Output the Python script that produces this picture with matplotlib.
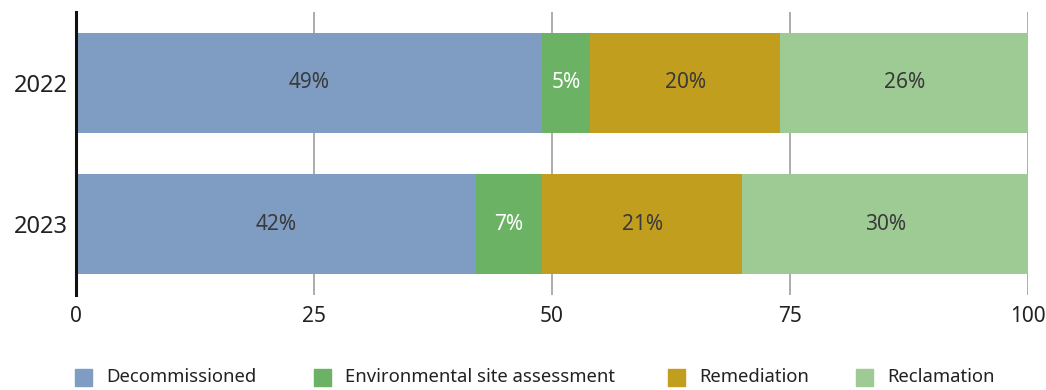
import matplotlib
matplotlib.use("Agg")
import matplotlib.pyplot as plt
from matplotlib.patches import Rectangle

plt.rcParams['font.family'] = ['Noto Sans', 'DejaVu Sans']

years = ["2022", "2023"]
categories = ["Decommissioned", "Environmental site assessment", "Remediation", "Reclamation"]
values = {
    "Decommissioned": [49, 42],
    "Environmental site assessment": [5, 7],
    "Remediation": [20, 21],
    "Reclamation": [26, 30],
}
colors = ["#7f9dc3", "#6cb264", "#c29e1e", "#9dcb93"]
label_colors = ["#3a3a3a", "#ffffff", "#3a3a3a", "#3a3a3a"]
x_ticks = [0, 25, 50, 75, 100]

fig = plt.figure(figsize=(10.46, 3.9), dpi=100)
ax = fig.add_axes([76 / 1046, 1 - 295 / 390, (1028 - 76) / 1046, (295 - 12) / 390])

ypos = list(range(len(years)))
left = [0] * len(years)
for cat, col, lcol in zip(categories, colors, label_colors):
    vals = values[cat]
    bars = ax.barh(ypos, vals, left=left, height=0.71, color=col, zorder=2)
    ax.bar_label(bars, labels=[f"{v}%" for v in vals], label_type="center",
                 color=lcol, fontsize=15)
    left = [l + v for l, v in zip(left, vals)]

ax.set_xlim(0, 100)
ax.set_ylim(1.5, -0.5)
ax.set_yticks(ypos)
ax.set_yticklabels(years, fontsize=17, color="#222222")
ax.set_xticks(x_ticks)
ax.set_xticklabels([str(t) for t in x_ticks], fontsize=15, color="#222222")
ax.tick_params(axis="both", length=0)
ax.tick_params(axis="x", pad=8)
ax.tick_params(axis="y", pad=6)
ax.xaxis.grid(True, color="#a6a6a6", linewidth=1.3, zorder=0)
ax.set_axisbelow(True)
for side in ["top", "right", "bottom"]:
    ax.spines[side].set_visible(False)
ax.spines["left"].set_color("#111111")
ax.spines["left"].set_linewidth(2.2)
ax.spines["left"].set_zorder(3)

# legend row along the bottom
legend_x = [75, 314, 668, 856]
for x0, cat, col in zip(legend_x, categories, colors):
    fig.patches.append(Rectangle((x0 / 1046, 1 - 386 / 390), 17 / 1046, 17 / 390,
                                 transform=fig.transFigure, facecolor=col,
                                 edgecolor=col))
    fig.text((x0 + 31) / 1046, 1 - 377 / 390, cat, fontsize=13.3, color="#222222",
             va="center", ha="left")

fig.savefig("out.png", dpi=100)
